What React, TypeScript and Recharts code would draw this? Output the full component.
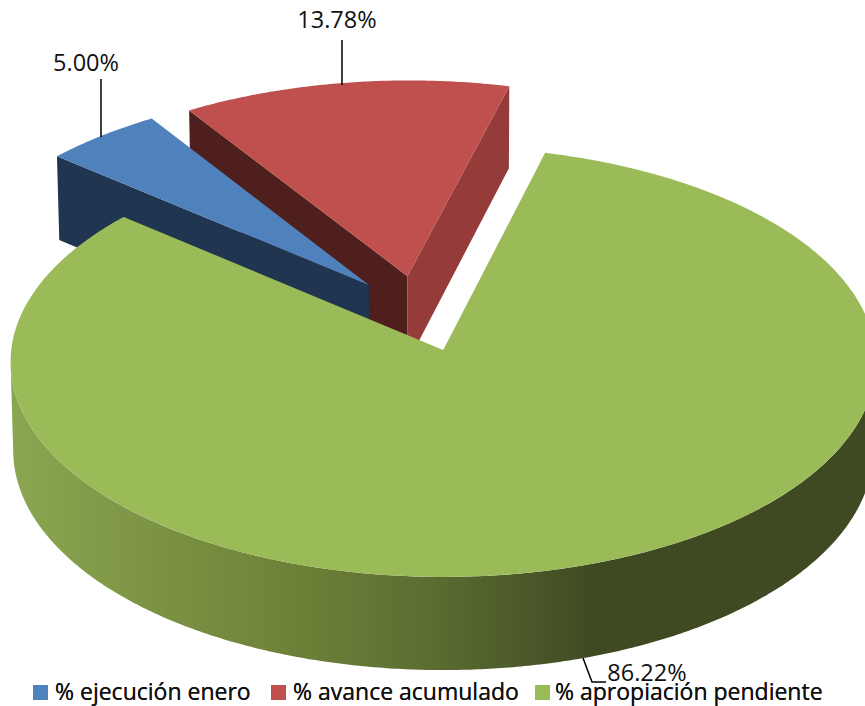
import React from "react";
import { PieChart, Pie, Legend } from "recharts";

const categories = ["% ejecución enero", "% avance acumulado", "% apropiación pendiente"];
const values = [5.0, 13.78, 86.22];
const topColors = ["#4f81bd", "#c0504d", "#9bbb59"];
const data = categories.map((name, i) => ({ name, value: values[i], fill: topColors[i] }));

// Faces seen on the radial cuts: [start edge, end edge]
const cutColors = [["#1f3550", "#1f3550"], ["#4f1f1e", "#953c3a"], ["#404a22", "#404a22"]];

// 3D projection parameters
const PERSP = 0.0553;
const TILT = 214.4 / 432;
const EXPLODE = 0.181;
const CENTER_X = -0.0548;
const CENTER_Y = 0.1725;
const DEPTH = 88;
const DEPTH_SHRINK = 0.006;
const rad = (d: number) => (d * Math.PI) / 180;
const deg = (r: number) => (r * 180) / Math.PI;

function project(gx: number, gy: number, cx: number, cy: number, R: number, down: boolean) {
  const w = 1 + PERSP * gy;
  let x = (R * gx) / w;
  let y = (-R * TILT * gy) / w;
  if (down) {
    x *= 1 - DEPTH_SHRINK;
    y += DEPTH / w;
  }
  return [cx + x, cy + y];
}

const toPath = (pts: number[][]) =>
  "M" + pts.map((p) => `${p[0].toFixed(2)},${p[1].toFixed(2)}`).join("L") + "Z";

function Slice3D(props: any) {
  const { cx, cy, outerRadius: R, startAngle, endAngle, midAngle, fill } = props;
  const i = topColors.indexOf(fill);
  const t0 = 90 - startAngle;
  const t1 = 90 - endAngle;
  const tm = 90 - midAngle;
  const ax = CENTER_X + EXPLODE * Math.sin(rad(tm));
  const ay = CENTER_Y + EXPLODE * Math.cos(rad(tm));
  const rim = (t: number, down = false) =>
    project(ax + Math.sin(rad(t)), ay + Math.cos(rad(t)), cx, cy, R, down);
  const apex = (down = false) => project(ax, ay, cx, cy, R, down);

  const topPts = [apex()];
  for (let t = t0; t < t1; t += 0.5) topPts.push(rim(t));
  topPts.push(rim(t1));

  const faces: React.ReactNode[] = [];
  if (Math.sin(rad(t0)) < 0) {
    faces.push(
      <path key="s" d={toPath([rim(t0), apex(), apex(true), rim(t0, true)])} fill={cutColors[i][0]} />
    );
  }
  if (Math.sin(rad(t1)) > 0 && Math.cos(rad(t1)) > 0) {
    faces.push(
      <path key="e" d={toPath([rim(t1), apex(), apex(true), rim(t1, true)])} fill={cutColors[i][1]} />
    );
  }
  const tangent = deg(Math.acos(-PERSP));
  const w0 = Math.max(t0, tangent);
  const w1 = Math.min(t1, 360 - tangent);
  let wall = null;
  if (w1 > w0) {
    const upper: number[][] = [];
    const lower: number[][] = [];
    for (let t = w0; t <= w1; t += 0.5) {
      upper.push(rim(t));
      lower.unshift(rim(t, true));
    }
    wall = <path d={toPath([...upper, ...lower])} fill="url(#wallGrad)" />;
  }
  return (
    <g>
      <defs>
        <linearGradient id="wallGrad" gradientUnits="userSpaceOnUse" x1="11" x2="865" y1="0" y2="0">
          <stop offset="0" stopColor="#8ba650" />
          <stop offset="0.35" stopColor="#6b7f37" />
          <stop offset="0.5" stopColor="#5a6c31" />
          <stop offset="0.68" stopColor="#404a22" />
          <stop offset="1" stopColor="#404a22" />
        </linearGradient>
      </defs>
      {faces}
      {wall}
      <path d={toPath(topPts)} fill={fill} />
    </g>
  );
}

// The red slice sits behind the blue one, so it is painted in a first pass.
const BackSlice = (props: any) => (props.fill === topColors[1] ? <Slice3D {...props} /> : <g />);
const FrontSlice = (props: any) => (props.fill === topColors[1] ? <g /> : <Slice3D {...props} />);

const LABEL_LAYOUT = [
  { x: 86, y: 71, line: "101,79 101,137" },
  { x: 337, y: 28, line: "342,40 342,85" },
  { x: 647, y: 681, line: "583,658 592,682 606,682" },
];

function SliceLabel(props: any) {
  const l = LABEL_LAYOUT[props.index];
  return (
    <g>
      <polyline points={l.line} fill="none" stroke="#000" strokeWidth={1.5} />
      <text x={l.x} y={l.y} textAnchor="middle" fontFamily="Open Sans" fontSize={23.5} fill="#111">
        {props.value.toFixed(2)}%
      </text>
    </g>
  );
}

const LEGEND_ICON_X = [33, 271, 535];
const LEGEND_TEXT_X = [55, 293, 555];

function LegendContent({ payload }: any) {
  return (
    <div style={{ position: "relative", height: 24, fontFamily: "Open Sans", fontSize: 23, color: "#111" }}>
      {(payload || []).map((p: any) => {
        const i = categories.indexOf(p.value);
        return (
          <React.Fragment key={p.value}>
            <span style={{ position: "absolute", left: LEGEND_ICON_X[i], top: 6, width: 15, height: 15, background: topColors[i] }} />
            <span style={{ position: "absolute", left: LEGEND_TEXT_X[i], top: 0, whiteSpace: "nowrap", lineHeight: "24px" }}>
              {p.value}
            </span>
          </React.Fragment>
        );
      })}
    </div>
  );
}

export default function App() {
  return (
    <div style={{ position: "absolute", left: 0, top: 0, width: 865, height: 706, overflow: "hidden" }}>
      <PieChart width={865} height={706} margin={{ top: 0, right: 0, bottom: 0, left: 0 }}>
        <Pie
          data={data}
          dataKey="value"
          nameKey="name"
          cx={443}
          cy={350}
          outerRadius={432}
          startAngle={140}
          endAngle={-220}
          stroke="none"
          isAnimationActive={false}
          shape={BackSlice}
          labelLine={false}
        />
        <Pie
          data={data}
          dataKey="value"
          nameKey="name"
          cx={443}
          cy={350}
          outerRadius={432}
          startAngle={140}
          endAngle={-220}
          stroke="none"
          legendType="none"
          isAnimationActive={false}
          shape={FrontSlice}
          label={SliceLabel}
          labelLine={false}
        />
        <Legend
          content={LegendContent}
          wrapperStyle={{ position: "absolute", left: 0, top: 679, width: 865, height: 24, bottom: "auto" }}
        />
      </PieChart>
    </div>
  );
}
